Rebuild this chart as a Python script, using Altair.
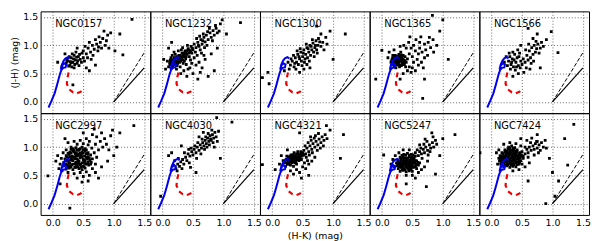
import altair as alt
import pandas as pd

GALAXIES = ["NGC0157", "NGC1232", "NGC1300", "NGC1365", "NGC1566",
            "NGC2997", "NGC4030", "NGC4321", "NGC5247", "NGC7424"]

NGC0157 = """
0.22,0.68 0.25,0.72 0.28,0.65 0.30,0.78 0.33,0.70 0.35,0.82 0.37,0.74 0.40,0.68 0.42,0.80 0.27,0.80
0.31,0.62 0.38,0.88 0.45,0.75 0.24,0.77 0.34,0.76 0.29,0.71 0.36,0.66 0.41,0.73 0.26,0.63 0.39,0.79
0.32,0.85 0.44,0.84 0.47,0.70 0.23,0.73 0.30,0.69 0.35,0.60 0.43,0.64 0.50,0.78 0.48,0.86 0.52,0.72
0.50,0.90 0.55,0.85 0.58,0.95 0.62,0.88 0.65,1.00 0.68,0.93 0.72,1.02 0.75,0.97 0.60,1.05 0.70,1.10
0.78,1.05 0.82,1.12 0.86,1.00 0.90,1.18 0.66,0.82 0.74,0.90 0.57,0.78 0.80,0.95 0.63,0.75 0.53,0.98
0.88,1.08 0.76,1.15 0.84,1.25 0.92,0.95 1.30,1.46 1.15,0.83 0.95,1.22 1.02,0.90 0.15,0.62 0.08,0.70
0.33,0.30 0.60,0.55 0.70,0.65 0.55,0.60 1.10,1.20 0.40,0.95 0.20,0.85
"""

NGC1232 = """
0.10,0.62 0.12,0.70 0.15,0.66 0.18,0.74 0.20,0.68 0.22,0.78 0.25,0.72 0.27,0.82 0.30,0.76 0.32,0.86
0.35,0.80 0.37,0.90 0.40,0.84 0.42,0.94 0.45,0.88 0.47,0.98 0.50,0.92 0.14,0.78 0.17,0.62 0.21,0.84
0.24,0.64 0.28,0.70 0.31,0.92 0.34,0.68 0.38,0.76 0.41,1.00 0.44,0.80 0.48,0.86 0.52,1.02 0.08,0.72
0.19,0.88 0.26,0.90 0.33,0.96 0.36,0.72 0.29,0.62 0.23,0.58 0.16,0.82 0.39,0.66 0.46,0.74 0.13,0.74
0.20,0.72 0.26,0.76 0.31,0.80 0.35,0.86 0.23,0.70 0.28,0.78 0.18,0.66 0.33,0.74
0.14,0.70 0.17,0.70 0.19,0.78 0.21,0.74 0.24,0.80 0.25,0.68 0.27,0.76 0.29,0.82 0.30,0.72 0.32,0.78
0.34,0.82 0.36,0.84 0.38,0.88 0.39,0.80 0.40,0.90 0.43,0.86 0.44,0.92 0.46,0.90 0.49,0.95 0.22,0.66
0.16,0.74 0.12,0.66
0.55,0.96 0.58,1.05 0.60,0.98 0.63,1.10 0.65,1.02 0.68,1.14 0.70,1.06 0.72,1.18 0.75,1.10 0.78,1.22
0.80,1.14 0.83,1.26 0.85,1.18 0.88,1.30 0.90,1.22 0.56,1.12 0.62,0.92 0.67,1.20 0.73,1.00 0.77,1.30
0.82,1.08 0.87,1.35 0.93,1.25 0.54,0.88 0.61,1.16 0.69,0.96 0.74,1.24 0.57,0.82 0.64,0.86 0.95,1.38
0.59,1.00 0.66,1.08
0.35,0.55 0.45,0.60 0.50,0.50 0.55,0.65 0.60,0.70 0.65,0.60 0.70,0.75 0.75,0.45 0.85,0.55 0.40,0.45
0.58,0.40 0.30,0.50 0.48,0.68 0.62,0.52 0.68,0.82 0.80,0.85 0.52,0.78 0.42,0.58 0.05,0.58 0.02,0.75
1.28,1.40 1.05,1.20 0.98,1.45 0.90,0.95 0.15,1.05 0.10,0.95
"""

NGC1300 = """
0.30,0.65 0.33,0.72 0.36,0.62 0.38,0.78 0.40,0.70 0.42,0.84 0.45,0.76 0.47,0.88 0.50,0.80 0.52,0.92
0.55,0.84 0.57,0.96 0.60,0.88 0.62,1.00 0.65,0.92 0.67,1.04 0.70,0.96 0.72,1.08 0.75,1.00 0.78,1.06
0.80,0.98 0.35,0.82 0.43,0.66 0.48,0.72 0.53,0.70 0.58,0.78 0.63,0.82 0.68,0.88 0.73,0.92 0.46,0.94
0.56,1.02 0.66,1.10 0.76,1.12 0.83,1.05 0.88,1.14 0.26,0.70 0.28,0.58 0.31,0.76 0.39,0.58 0.44,0.80
0.51,0.86 0.54,0.76 0.59,0.94 0.61,0.72 0.64,0.98 0.69,0.80 0.71,1.00 0.74,0.86 0.49,0.64 0.41,0.90
0.37,0.68 0.57,0.66 0.85,0.92 0.90,1.02 0.62,0.60 0.52,0.58 0.45,0.52 0.80,1.20
1.20,1.20 0.73,1.34 -0.16,0.43 -0.07,0.52 -0.05,0.32 0.95,1.25 1.00,0.75 0.20,0.55
"""

NGC1365 = """
0.15,0.70 0.17,0.76 0.19,0.66 0.21,0.72 0.23,0.80 0.25,0.68 0.27,0.74 0.29,0.62 0.31,0.78 0.33,0.70
0.35,0.82 0.37,0.66 0.20,0.62 0.24,0.75 0.28,0.84 0.32,0.64 0.36,0.74 0.22,0.68 0.26,0.78 0.30,0.72
0.34,0.76 0.18,0.82 0.38,0.80 0.40,0.70 0.27,0.66 0.23,0.60 0.31,0.88 0.25,0.72 0.29,0.76 0.33,0.80
0.21,0.78 0.39,0.62 0.42,0.76 0.19,0.74 0.35,0.68 0.28,0.70
0.16,0.73 0.20,0.70 0.24,0.69 0.28,0.72 0.32,0.74 0.36,0.71 0.22,0.75 0.26,0.71 0.30,0.65 0.34,0.73
0.18,0.78 0.22,0.82 0.26,0.81 0.30,0.79 0.34,0.66 0.38,0.73 0.24,0.65 0.28,0.80 0.32,0.83
0.45,0.85 0.50,0.80 0.55,0.90 0.60,0.85 0.48,0.95 0.52,1.00 0.58,0.75 0.62,0.95 0.66,0.88 0.70,1.02
0.72,0.92 0.76,1.05 0.80,0.96 0.84,1.10 0.44,1.05 0.40,0.95 0.36,1.00 0.30,0.98 0.20,0.92 0.12,0.88
0.10,0.78 0.45,0.62 0.50,0.60 0.55,0.55 0.42,0.55 0.35,0.50 0.60,0.65 0.65,0.70 0.70,0.78 0.75,0.82
0.85,0.88 0.90,1.00 0.56,1.10 0.64,1.15 0.46,1.15 0.68,0.60 0.52,0.70 0.48,0.52 0.62,1.05 0.78,1.14
0.83,1.53 1.00,1.45 0.00,0.91 -0.10,0.40 1.09,0.75 0.67,0.06 0.95,1.25 0.30,0.40 0.70,0.40
"""

NGC1566 = """
0.28,0.72 0.30,0.80 0.32,0.66 0.34,0.76 0.36,0.62 0.38,0.84 0.40,0.70 0.42,0.78 0.44,0.64 0.46,0.86
0.48,0.72 0.31,0.58 0.35,0.88 0.39,0.56 0.43,0.92 0.47,0.60 0.26,0.64 0.33,0.70 0.37,0.74 0.41,0.62
0.45,0.80 0.29,0.86 0.50,0.66 0.52,0.76 0.55,0.70 0.58,0.82 0.60,0.74 0.62,0.90 0.64,0.78 0.66,0.96
0.68,0.84 0.70,1.00 0.72,0.88 0.74,0.94 0.76,1.02 0.78,0.86 0.56,0.92 0.61,1.02 0.65,0.68 0.69,0.72
0.73,1.07 0.80,0.95 0.82,1.05 0.57,0.60 0.63,0.58 0.53,0.52 0.44,0.50 0.75,1.20 0.68,1.12 0.85,0.98
0.48,1.00 0.24,0.80 0.21,0.70
0.98,1.24 1.09,0.87 0.90,1.10 0.60,1.30 0.80,0.60 0.35,0.45
"""

NGC2997 = """
0.22,0.61 0.27,0.63 0.33,0.60 0.38,0.64 0.43,0.62 0.48,0.60 0.53,0.63
0.19,0.67 0.24,0.69 0.29,0.66 0.34,0.70 0.39,0.67 0.44,0.69 0.49,0.66 0.54,0.70 0.59,0.68
0.18,0.73 0.23,0.75 0.28,0.72 0.33,0.76 0.38,0.73 0.43,0.75 0.48,0.72 0.53,0.76 0.58,0.74 0.63,0.73
0.20,0.79 0.25,0.81 0.30,0.78 0.35,0.82 0.40,0.79 0.45,0.81 0.50,0.78 0.55,0.82 0.60,0.80 0.65,0.79
0.22,0.85 0.27,0.87 0.32,0.84 0.37,0.88 0.42,0.85 0.47,0.87 0.52,0.84 0.57,0.88 0.62,0.86
0.28,0.91 0.33,0.93 0.38,0.90 0.43,0.94 0.48,0.91 0.53,0.93 0.58,0.90
0.33,0.97 0.38,0.99 0.43,0.96 0.48,1.00 0.53,0.97
0.26,0.75 0.31,0.69 0.36,0.79 0.41,0.72 0.46,0.84 0.51,0.75 0.36,0.64 0.41,0.87 0.31,0.82 0.46,0.70
0.56,0.79 0.26,0.66 0.35,0.91 0.45,0.97
0.25,0.64 0.30,0.645 0.41,0.65 0.46,0.64 0.51,0.655 0.21,0.70 0.27,0.71 0.37,0.705 0.42,0.71 0.52,0.715
0.57,0.705 0.62,0.70 0.21,0.765 0.31,0.77 0.41,0.765 0.51,0.77 0.61,0.765 0.23,0.825 0.28,0.83 0.38,0.835
0.48,0.825 0.58,0.83 0.25,0.89 0.30,0.895 0.40,0.885 0.45,0.89 0.50,0.895 0.55,0.885 0.35,0.95 0.40,0.945
0.50,0.955 0.30,0.96 0.55,0.95
0.12,0.70 0.14,0.80 0.10,0.62 0.15,0.58 0.25,0.55 0.35,0.53 0.45,0.55 0.55,0.56 0.65,0.62 0.70,0.70
0.72,0.82 0.68,0.90 0.64,0.98 0.58,1.04 0.50,1.06 0.40,1.05 0.30,1.00 0.22,0.95 0.17,0.90 0.60,1.10
0.70,1.05 0.75,0.95 0.78,1.10 0.82,1.00 0.85,1.15 0.88,1.05 0.92,0.95 0.95,1.20 0.80,1.25 0.72,1.18
0.65,1.22 0.55,1.15 0.45,1.12 0.35,1.10 0.25,1.08 0.20,1.15 0.40,0.45 0.50,0.48 0.60,0.50 0.70,0.55
0.80,0.65 0.90,0.75 1.00,0.85 0.58,0.40 0.48,0.38 0.75,0.45 0.05,0.75 0.08,0.85 1.05,1.00 1.10,1.25
0.98,1.30 0.68,1.32 0.50,1.25
1.33,1.38 0.28,-0.08 -0.08,0.49 0.12,0.35
"""

NGC4030 = """
0.22,0.62 0.25,0.70 0.28,0.66 0.30,0.74 0.33,0.78 0.26,0.80 0.35,0.70 0.38,0.82 0.40,0.76 0.42,0.88
0.45,0.84 0.48,0.92 0.50,0.86 0.52,0.96 0.55,0.90 0.57,1.00 0.60,0.94 0.62,1.04 0.64,0.98 0.66,1.08
0.68,1.02 0.70,1.12 0.72,1.06 0.74,1.16 0.76,1.10 0.78,1.20 0.80,1.12 0.82,1.22 0.84,1.16 0.86,1.26
0.88,1.18 0.73,1.00 0.77,1.04 0.79,1.14 0.71,1.18 0.75,1.24 0.83,1.08 0.69,0.96 0.65,1.14 0.58,1.08
0.53,1.02 0.47,0.98 0.43,0.96 0.36,0.90 0.31,1.02 0.20,0.76 0.18,0.68 0.24,0.58 0.32,0.62 0.44,0.72
0.56,0.80 0.63,0.88 0.90,1.10 0.92,1.28 0.81,1.30 0.67,1.26 0.60,1.18 0.85,1.00 0.46,0.64
1.14,1.44 0.89,1.52 0.15,0.90 0.10,0.85 -0.03,0.13 0.95,0.80 0.55,0.55
"""

NGC4321 = """
0.20,0.72 0.23,0.78 0.25,0.70 0.27,0.82 0.29,0.74 0.31,0.86 0.33,0.76 0.35,0.80 0.37,0.72 0.39,0.84
0.41,0.78 0.43,0.88 0.45,0.80 0.47,0.92 0.49,0.84 0.22,0.66 0.26,0.76 0.30,0.68 0.34,0.86 0.38,0.76
0.42,0.82 0.46,0.86 0.28,0.78 0.32,0.72 0.36,0.90 0.40,0.70 0.44,0.76 0.24,0.84 0.18,0.76 0.48,0.78
0.50,0.90 0.35,0.66 0.31,0.80 0.37,0.82 0.27,0.70 0.42,0.92
0.21,0.75 0.24,0.72 0.28,0.74 0.30,0.82 0.32,0.78 0.34,0.74 0.36,0.78 0.38,0.80 0.40,0.82 0.40,0.88
0.44,0.84 0.46,0.82 0.48,0.88 0.52,0.86 0.26,0.80 0.29,0.84 0.33,0.82 0.36,0.85 0.39,0.74 0.43,0.78
0.52,0.94 0.55,0.88 0.57,0.98 0.60,0.92 0.62,1.02 0.65,0.96 0.67,1.06 0.70,1.00 0.72,1.10 0.75,1.04
0.77,1.14 0.80,1.08 0.82,1.18 0.85,1.12 0.87,1.22 0.54,1.02 0.59,1.08 0.64,1.12 0.69,1.16 0.74,0.94
0.79,0.98 0.56,0.82 0.61,0.86 0.66,0.90 0.71,1.20 0.84,1.02 0.90,1.15 0.63,1.18 0.58,0.76 0.53,0.72
0.76,1.24
0.30,0.58 0.40,0.60 0.50,0.65 0.45,0.55 0.55,0.62 0.60,0.70 0.35,0.52 0.65,0.75 0.70,0.82 0.12,0.70
0.15,0.85 0.25,0.95 0.48,0.45 0.60,0.50
1.17,1.22 0.89,1.38 -0.16,0.69 1.12,0.80 0.95,1.30 0.45,1.25 0.05,0.60
"""

NGC5247 = """
0.30,0.57 0.35,0.59 0.40,0.56 0.45,0.58 0.50,0.57
0.27,0.62 0.32,0.64 0.37,0.61 0.42,0.63 0.47,0.62 0.52,0.64 0.57,0.62
0.25,0.67 0.30,0.69 0.35,0.66 0.40,0.68 0.45,0.67 0.50,0.69 0.55,0.66 0.60,0.68
0.24,0.72 0.29,0.74 0.34,0.71 0.39,0.73 0.44,0.72 0.49,0.74 0.54,0.71 0.59,0.73
0.26,0.77 0.31,0.79 0.36,0.76 0.41,0.78 0.46,0.77 0.51,0.79 0.56,0.76
0.30,0.82 0.35,0.84 0.40,0.81 0.45,0.83 0.50,0.82 0.55,0.84
0.36,0.87 0.42,0.89 0.48,0.87
0.33,0.68 0.38,0.75 0.43,0.70 0.48,0.66 0.37,0.80 0.42,0.65 0.47,0.76 0.28,0.70 0.53,0.74 0.44,0.60
0.33,0.60 0.38,0.595 0.48,0.60 0.29,0.65 0.34,0.645 0.39,0.655 0.45,0.65 0.50,0.645 0.55,0.655 0.27,0.70
0.32,0.705 0.37,0.70 0.41,0.705 0.46,0.70 0.51,0.71 0.57,0.70 0.27,0.75 0.32,0.755 0.36,0.745 0.42,0.75
0.46,0.745 0.52,0.76 0.57,0.75 0.33,0.80 0.38,0.805 0.43,0.80 0.48,0.805 0.53,0.80 0.33,0.855 0.39,0.86
0.45,0.855 0.51,0.86
0.60,0.85 0.62,0.92 0.65,0.88 0.68,0.96 0.70,0.90 0.72,1.00 0.75,0.94 0.78,1.04 0.80,0.98 0.83,1.08
0.85,1.00 0.88,1.12 0.64,0.98 0.69,1.05 0.74,1.10 0.79,0.92 0.84,1.18 0.58,0.95 0.66,0.80 0.76,0.86
0.90,1.05 0.71,1.14 0.62,1.04 0.82,1.25
0.20,0.65 0.18,0.78 0.22,0.85 0.28,0.90 0.35,0.95 0.45,0.95 0.55,0.90 0.62,0.72 0.65,0.60 0.60,0.55
0.50,0.50 0.40,0.50 0.70,0.65 0.75,0.75 0.15,0.70 0.55,0.45
1.20,1.22 0.03,0.86 0.73,0.30 0.88,0.52 0.95,0.85 1.00,1.15 0.40,0.35
"""

NGC7424 = """
0.20,0.65 0.25,0.67 0.30,0.64 0.35,0.66 0.40,0.65
0.15,0.70 0.20,0.72 0.25,0.69 0.30,0.71 0.35,0.70 0.40,0.72 0.45,0.70
0.13,0.75 0.18,0.77 0.23,0.74 0.28,0.76 0.33,0.75 0.38,0.77 0.43,0.74 0.48,0.76
0.12,0.80 0.17,0.82 0.22,0.79 0.27,0.81 0.32,0.80 0.37,0.82 0.42,0.79 0.47,0.81 0.52,0.80
0.14,0.85 0.19,0.87 0.24,0.84 0.29,0.86 0.34,0.85 0.39,0.87 0.44,0.84 0.49,0.86
0.17,0.90 0.22,0.92 0.27,0.89 0.32,0.91 0.37,0.90 0.42,0.92 0.47,0.90
0.22,0.95 0.27,0.97 0.32,0.94 0.37,0.96 0.42,0.95
0.28,1.00 0.33,1.02 0.38,0.99
0.21,0.83 0.26,0.78 0.31,0.88 0.36,0.79 0.41,0.84 0.26,0.92 0.33,0.70 0.39,0.92 0.16,0.79 0.45,0.88
0.22,0.685 0.27,0.69 0.32,0.68 0.37,0.685 0.42,0.69 0.16,0.73 0.21,0.735 0.26,0.73 0.31,0.735 0.36,0.73
0.41,0.735 0.46,0.73 0.15,0.78 0.20,0.785 0.25,0.775 0.30,0.78 0.35,0.775 0.40,0.785 0.45,0.78 0.16,0.835
0.22,0.83 0.28,0.835 0.33,0.83 0.38,0.835 0.43,0.83 0.48,0.835 0.19,0.885 0.24,0.875 0.29,0.885 0.35,0.875
0.40,0.885 0.45,0.875 0.25,0.93 0.30,0.935 0.35,0.925 0.40,0.93 0.30,0.98 0.35,0.975
0.50,0.92 0.55,0.88 0.58,0.96 0.60,0.90 0.62,1.00 0.65,0.94 0.68,1.02 0.70,0.96 0.72,1.06 0.75,0.98
0.78,1.04 0.80,0.94 0.82,1.08 0.85,1.00 0.88,1.12 0.55,1.00 0.64,1.08 0.74,1.10 0.77,0.90 0.52,0.84
0.60,0.82 0.70,0.86 0.90,0.98 0.66,1.16 0.75,1.22 0.58,1.12
0.08,0.90 0.10,0.70 0.12,0.95 0.20,1.05 0.30,1.08 0.40,1.06 0.48,1.02 0.50,0.70 0.55,0.65 0.45,0.60
0.35,0.58 0.62,0.72 0.48,1.15
1.35,1.40 0.75,1.10 1.04,0.13 1.25,0.68 0.89,0.00 -0.19,0.90 1.00,0.55 0.95,0.80 1.10,0.40 0.60,0.40
1.20,1.15
"""

# stellar population track (blue) and second track (red dashed)
TRACK_HK = [-0.07, -0.02, 0.03, 0.07, 0.10, 0.12, 0.14, 0.17, 0.21, 0.22, 0.19, 0.15,
            0.13, 0.15, 0.18, 0.21, 0.25, 0.28]
TRACK_JH = [-0.10, 0.02, 0.15, 0.30, 0.42, 0.50, 0.56, 0.60, 0.61, 0.66, 0.68, 0.64,
            0.57, 0.66, 0.73, 0.77, 0.79, 0.77]
RED_HK = [0.26, 0.24, 0.23, 0.27, 0.33, 0.40, 0.46, 0.50]
RED_JH = [0.52, 0.42, 0.32, 0.22, 0.17, 0.15, 0.18, 0.23]
# reddening vectors
VEC_HK = [1.0, 1.5]
VEC_SOLID_JH = [0.0, 0.6]
VEC_DASH_JH = [0.0, 0.87]

DOMAIN = [-0.2, 1.6]
FONT = "DejaVu Sans"
W, H = 111, 103

POINT_STRINGS = dict(zip(GALAXIES, [NGC0157, NGC1232, NGC1300, NGC1365, NGC1566,
                                    NGC2997, NGC4030, NGC4321, NGC5247, NGC7424]))


def parse(s):
    hk, jh = [], []
    for p in s.split():
        a, b = p.split(",")
        hk.append(float(a))
        jh.append(float(b))
    return pd.DataFrame({"hk": hk, "jh": jh})


def line_df(xs, ys):
    return pd.DataFrame({"hk": xs, "jh": ys, "i": list(range(len(xs)))})


def axis(labels, title):
    return alt.Axis(tickCount=4, format=".1f", grid=True, gridDash=[1, 2],
                    gridColor="#444", gridWidth=0.8, ticks=False, domain=False,
                    labels=labels, labelOverlap=False, labelFlush=False,
                    labelFont=FONT, labelFontSize=9.5, labelColor="black",
                    labelPadding=3, title=title, titleFont=FONT, titleFontSize=9.5,
                    titleFontWeight="normal", titleColor="black", titlePadding=3)


def panel(idx, name):
    row, col = divmod(idx, 5)
    xa = axis(row == 1, "(H-K) (mag)" if (row == 1 and col == 2) else "")
    ya = axis(col == 0, "(J-H) (mag)" if (row == 0 and col == 0) else "")
    xs = alt.Scale(domain=DOMAIN, nice=False, zero=False)
    ys = alt.Scale(domain=DOMAIN, nice=False, zero=False)
    X = alt.X("hk:Q", scale=xs, axis=xa)
    Y = alt.Y("jh:Q", scale=ys, axis=ya)

    pts = alt.Chart(parse(POINT_STRINGS[name])).mark_square(
        size=8, color="black", opacity=1, clip=True).encode(x=X, y=Y)
    blue = alt.Chart(line_df(TRACK_HK, TRACK_JH)).mark_line(
        color="#0000ee", strokeWidth=2.0, clip=True).encode(x=X, y=Y, order="i:Q")
    red = alt.Chart(line_df(RED_HK, RED_JH)).mark_line(
        color="#ee0000", strokeWidth=2.2, strokeDash=[5, 4], clip=True).encode(
        x=X, y=Y, order="i:Q")
    solid = alt.Chart(line_df(VEC_HK, VEC_SOLID_JH)).mark_line(
        color="black", strokeWidth=1.2).encode(x=X, y=Y, order="i:Q")
    dash = alt.Chart(line_df(VEC_HK, VEC_DASH_JH)).mark_line(
        color="black", strokeWidth=1.0, strokeDash=[4, 2]).encode(x=X, y=Y, order="i:Q")
    label = alt.Chart(pd.DataFrame({"name": [name]})).mark_text(
        align="left", baseline="middle", font=FONT, fontSize=10, color="black").encode(
        x=alt.X("px:Q", scale=xs, axis=xa), y=alt.Y("py:Q", scale=ys, axis=ya),
        text="name:N").transform_calculate(px="0.04", py="1.38")
    return alt.layer(pts, blue, red, solid, dash, label).properties(width=W, height=H)


panels = [panel(i, g) for i, g in enumerate(GALAXIES)]
chart = alt.concat(*panels, columns=5, spacing=0, bounds="flush").properties(
    padding={"left": 1, "top": 1, "right": 1, "bottom": 1}
).configure_view(stroke="black", strokeWidth=1)

chart.save("out.html", embed_options={"renderer": "svg", "actions": False})
